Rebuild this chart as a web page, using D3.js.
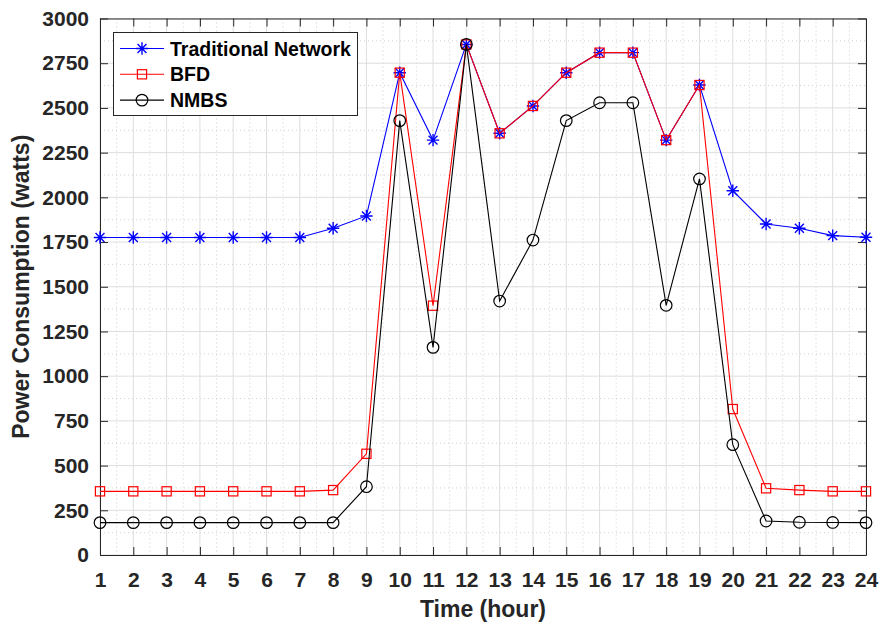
<!DOCTYPE html>
<html>
<head>
<meta charset="utf-8">
<script src="https://cdn.jsdelivr.net/npm/d3@7"></script>
<style>
  html, body { margin: 0; padding: 0; background: #ffffff; }
  svg { display: block; font-family: "Liberation Sans", Arial, Helvetica, sans-serif; }
</style>
</head>
<body>
<svg id="chart" width="880" height="629"></svg>
<script>
// Hourly power consumption for three allocation schemes
const hours = [1, 2, 3, 4, 5, 6, 7, 8, 9, 10, 11, 12, 13, 14, 15, 16, 17, 18, 19, 20, 21, 22, 23, 24];
const traditionalNetwork = [1775, 1775, 1775, 1775, 1775, 1775, 1775, 1827, 1896, 2697, 2320, 2855,
                            2358, 2511, 2697, 2809, 2809, 2320, 2628, 2037, 1851, 1827, 1786, 1777];
const bfd = [356, 356, 356, 356, 356, 356, 356, 363, 566, 2697, 1394, 2855,
             2358, 2511, 2697, 2809, 2809, 2320, 2628, 816, 373, 363, 356, 356];
const nmbs = [181, 181, 181, 181, 181, 181, 181, 181, 382, 2429, 1161, 2855,
              1420, 1761, 2429, 2529, 2529, 1396, 2103, 617, 190, 183, 182, 181];
const yTicks = [0, 250, 500, 750, 1000, 1250, 1500, 1750, 2000, 2250, 2500, 2750, 3000];
const seriesNames = ["Traditional Network", "BFD", "NMBS"];

const svg = d3.select("#chart");
const margin = { left: 100, right: 14, top: 18.5, bottom: 74 };
const W = 880, H = 629;
const x = d3.scaleLinear().domain([1, 24]).range([margin.left, W - margin.right]);
const y = d3.scaleLinear().domain([0, 3000]).range([H - margin.bottom, margin.top]);
const ink = "#262626";

const x0 = x.range()[0], x1 = x.range()[1];
const yBot = y.range()[0], yTop = y.range()[1];

// Minor grid (dotted) at half-hours and every 125 W
const minorX = hours.slice(0, -1).map(h => h + 0.5);
const minorY = yTicks.slice(0, -1).map(v => v + 125);
const grid = svg.append("g");
grid.selectAll("line.mx").data(minorX).join("line")
  .attr("x1", d => x(d)).attr("x2", d => x(d)).attr("y1", yTop).attr("y2", yBot)
  .attr("stroke", "#c4c4c4").attr("stroke-width", 0.8).attr("stroke-dasharray", "1,3");
grid.selectAll("line.my").data(minorY).join("line")
  .attr("y1", d => y(d)).attr("y2", d => y(d)).attr("x1", x0).attr("x2", x1)
  .attr("stroke", "#c4c4c4").attr("stroke-width", 0.8).attr("stroke-dasharray", "1,3");
// Major grid
grid.selectAll("line.gx").data(hours).join("line")
  .attr("x1", d => x(d)).attr("x2", d => x(d)).attr("y1", yTop).attr("y2", yBot)
  .attr("stroke", "#dedede").attr("stroke-width", 1);
grid.selectAll("line.gy").data(yTicks).join("line")
  .attr("y1", d => y(d)).attr("y2", d => y(d)).attr("x1", x0).attr("x2", x1)
  .attr("stroke", "#dedede").attr("stroke-width", 1);

// Axes with inward ticks on all four sides
function styleAxis(g) {
  g.select(".domain").attr("stroke", ink).attr("stroke-width", 1);
  g.selectAll(".tick line").attr("stroke", ink).attr("stroke-width", 1);
  g.selectAll(".tick text").attr("fill", ink).attr("font-size", 21).attr("font-weight", "bold");
}
svg.append("g").attr("transform", `translate(0,${yBot})`)
  .call(d3.axisBottom(x).tickValues(hours).tickFormat(d3.format("d"))
    .tickSizeInner(-8).tickSizeOuter(0).tickPadding(17))
  .call(styleAxis);
svg.append("g").attr("transform", `translate(0,${yTop})`)
  .call(d3.axisTop(x).tickValues(hours).tickFormat("").tickSizeInner(-8).tickSizeOuter(0))
  .call(styleAxis);
svg.append("g").attr("transform", `translate(${x0},0)`)
  .call(d3.axisLeft(y).tickValues(yTicks).tickFormat(d3.format("d"))
    .tickSizeInner(-8).tickSizeOuter(0).tickPadding(11))
  .call(styleAxis);
svg.append("g").attr("transform", `translate(${x1},0)`)
  .call(d3.axisRight(y).tickValues(yTicks).tickFormat("").tickSizeInner(-8).tickSizeOuter(0))
  .call(styleAxis);

// Axis titles
svg.append("text").attr("x", (x0 + x1) / 2).attr("y", 617)
  .attr("text-anchor", "middle").attr("font-size", 23).attr("font-weight", "bold")
  .attr("fill", ink).text("Time (hour)");
svg.append("text")
  .attr("transform", `translate(28.5,${(yTop + yBot) / 2}) rotate(-90)`)
  .attr("text-anchor", "middle").attr("font-size", 23).attr("font-weight", "bold")
  .attr("fill", ink).text("Power Consumption (watts)");

// Marker shapes
function drawMarker(g, kind, color) {
  if (kind === "star") {
    const r = 6.2, d = r * 0.72;
    g.append("path")
      .attr("d", `M${-r},0H${r}M0,${-r}V${r}M${-d},${-d}L${d},${d}M${-d},${d}L${d},${-d}`)
      .attr("stroke", color).attr("stroke-width", 1.4).attr("fill", "none");
  } else if (kind === "square") {
    g.append("rect").attr("x", -4.6).attr("y", -4.6).attr("width", 9.2).attr("height", 9.2)
      .attr("stroke", color).attr("stroke-width", 1.2).attr("fill", "none");
  } else {
    g.append("circle").attr("r", 5.8)
      .attr("stroke", color).attr("stroke-width", 1.2).attr("fill", "none");
  }
}

const series = [
  { name: seriesNames[0], values: traditionalNetwork, color: "#0000ff", marker: "star" },
  { name: seriesNames[1], values: bfd, color: "#ff0000", marker: "square" },
  { name: seriesNames[2], values: nmbs, color: "#000000", marker: "circle" }
];

const line = d3.line().x((d, i) => x(hours[i])).y(d => y(d));
series.forEach(s => {
  const g = svg.append("g");
  g.append("path").attr("d", line(s.values))
    .attr("fill", "none").attr("stroke", s.color).attr("stroke-width", 1.1);
  s.values.forEach((v, i) => {
    const m = g.append("g").attr("transform", `translate(${x(hours[i])},${y(v)})`);
    drawMarker(m, s.marker, s.color);
  });
});

// Legend
const legend = svg.append("g");
legend.append("rect").attr("x", 113.5).attr("y", 32.5).attr("width", 244).attr("height", 83)
  .attr("fill", "#ffffff").attr("stroke", ink).attr("stroke-width", 1);
series.forEach((s, i) => {
  const cy = 48.5 + i * 25.8;
  legend.append("line").attr("x1", 120).attr("x2", 164).attr("y1", cy).attr("y2", cy)
    .attr("stroke", s.color).attr("stroke-width", 1.1);
  const m = legend.append("g").attr("transform", `translate(142,${cy})`);
  drawMarker(m, s.marker, s.color);
  legend.append("text").attr("x", 170).attr("y", cy + 7)
    .attr("font-size", 19.5).attr("font-weight", "bold").attr("fill", "#000000").text(s.name);
});
</script>
</body>
</html>
